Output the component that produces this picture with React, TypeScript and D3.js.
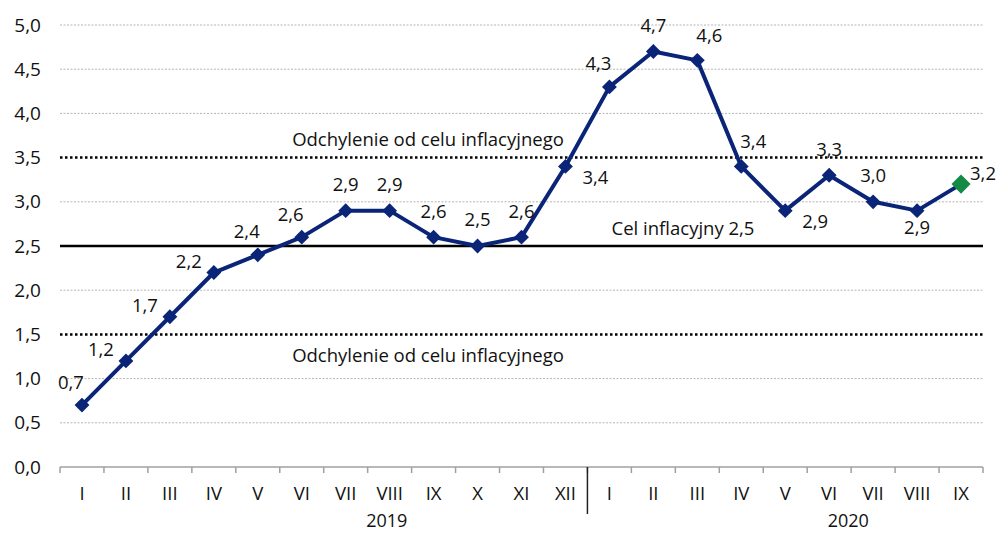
import React from "react";
import * as d3 from "d3";

const months = ["I","II","III","IV","V","VI","VII","VIII","IX","X","XI","XII","I","II","III","IV","V","VI","VII","VIII","IX"];
const years = ["2019", "2020"];
const yearMonthCounts = [12, 9];
const values = [0.7,1.2,1.7,2.2,2.4,2.6,2.9,2.9,2.6,2.5,2.6,3.4,4.3,4.7,4.6,3.4,2.9,3.3,3.0,2.9,3.2];
const labelPos = ["aboveLeft","left","left","left","aboveLeft","aboveLeft","above","above","above","above","above","belowRight","aboveLeft","above","aboveRight","aboveRight","belowRight","above","above","below","right"];
const yTicks = [0,0.5,1,1.5,2,2.5,3,3.5,4,4.5,5];
const targetValue = 2.5;
const bandValues = [1.5, 3.5];
const bandLabel = "Odchylenie od celu inflacyjnego";
const targetLabel = "Cel inflacyjny 2,5";

const W = 997, H = 533;
const left = 60, right = 983, top = 25, bottom = 467;
const FONT = "'Open Sans', sans-serif";
const NAVY = "#0a2478";
const GREEN = "#138a45";

const offsets: Record<string, [number, number]> = {
  above: [0, -26],
  aboveLeft: [-11, -23],
  left: [-25, -11],
  aboveRight: [12, -25],
  belowRight: [30, 11],
  below: [0, 17],
  right: [22, -11],
};

const fmt = (v: number) => v.toFixed(1).replace(".", ",");

export default function App() {
  const x = d3.scaleBand<number>().domain(d3.range(months.length)).range([left, right]).padding(0);
  const y = d3.scaleLinear().domain([0, 5]).range([bottom, top]);
  const cx = (i: number) => (x(i) as number) + x.bandwidth() / 2;
  const line = d3.line<number>().x((_, i) => cx(i)).y(d => y(d));

  let acc = 0;
  const yearSpans = yearMonthCounts.map(c => {
    const s = acc; acc += c;
    return { s, e: acc };
  });

  return (
    <svg width={W} height={H} style={{ position: "absolute", left: 0, top: 0, background: "#fff" }}>
      {yTicks.filter(t => t !== 0 && !bandValues.includes(t) && t !== targetValue).map(t => (
        <line key={"g" + t} x1={left} x2={right} y1={y(t)} y2={y(t)} stroke="#b5b5b5" strokeWidth={1} strokeDasharray="2,1.5" />
      ))}
      {bandValues.map(b => (
        <line key={"b" + b} x1={left} x2={right} y1={y(b)} y2={y(b)} stroke="#000" strokeWidth={2.5} strokeDasharray="2.5,2.5" />
      ))}
      <line x1={left} x2={right} y1={y(targetValue)} y2={y(targetValue)} stroke="#000" strokeWidth={2.5} />
      {yTicks.map(t => (
        <text key={"t" + t} x={41} y={y(t)} dy="0.35em" textAnchor="end" fontFamily={FONT} fontSize={19} fill="#111">{fmt(t)}</text>
      ))}
      <text x={428} y={y(3.5) - 12} textAnchor="middle" fontFamily={FONT} fontSize={18.5} fill="#111">{bandLabel}</text>
      <text x={428} y={y(1.5) + 28} textAnchor="middle" fontFamily={FONT} fontSize={18.5} fill="#111">{bandLabel}</text>
      <text x={683} y={y(2.5) - 11} textAnchor="middle" fontFamily={FONT} fontSize={18.5} fill="#111">{targetLabel}</text>

      <line x1={left} x2={right} y1={bottom} y2={bottom} stroke="#a0a0a0" strokeWidth={1.5} />
      {d3.range(months.length + 1).map(i => {
        const xx = i < months.length ? (x(i) as number) : right;
        return <line key={"tk" + i} x1={xx} x2={xx} y1={bottom} y2={bottom + 6} stroke="#a0a0a0" strokeWidth={1.5} />;
      })}
      {yearSpans.slice(1).map((sp, k) => (
        <line key={"sep" + k} x1={x(sp.s) as number} x2={x(sp.s) as number} y1={bottom} y2={bottom + 47} stroke="#222" strokeWidth={1.5} />
      ))}
      {months.map((m, i) => (
        <text key={"m" + i} x={cx(i)} y={bottom + 27} dy="0.35em" textAnchor="middle" fontFamily={FONT} fontSize={18.5} fill="#111">{m}</text>
      ))}
      {years.map((yr, k) => {
        const sp = yearSpans[k];
        const mid = ((x(sp.s) as number) + (x(sp.e - 1) as number) + x.bandwidth()) / 2 + 63;
        return <text key={yr} x={mid} y={bottom + 54} dy="0.35em" textAnchor="middle" fontFamily={FONT} fontSize={18} fill="#111">{yr}</text>;
      })}

      <path d={line(values) || ""} fill="none" stroke={NAVY} strokeWidth={4} strokeLinejoin="round" />
      {values.map((v, i) => {
        const last = i === values.length - 1;
        const sq = last ? 13.5 : 10.5;
        return (
          <rect key={"p" + i} x={-sq / 2} y={-sq / 2} width={sq} height={sq}
            transform={`translate(${cx(i)},${y(v)}) rotate(45)`}
            fill={last ? GREEN : NAVY} />
        );
      })}
      {values.map((v, i) => {
        const [dx, dy] = offsets[labelPos[i]];
        return (
          <text key={"l" + i} x={cx(i) + dx} y={y(v) + dy} dy="0.35em" textAnchor="middle" fontFamily={FONT} fontSize={18.5} fill="#111">{fmt(v)}</text>
        );
      })}
    </svg>
  );
}
